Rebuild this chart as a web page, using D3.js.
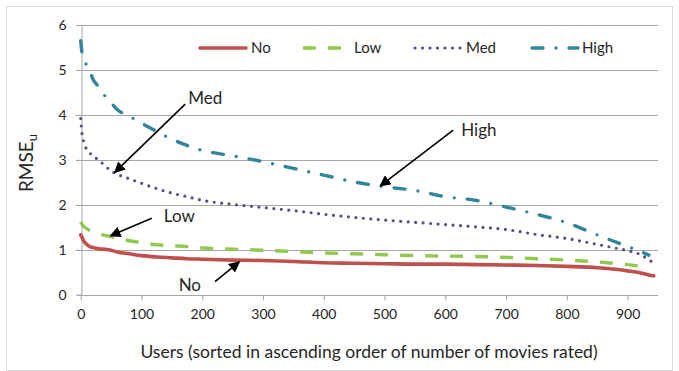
<!DOCTYPE html>
<html>
<head>
<meta charset="utf-8">
<script src="https://cdn.jsdelivr.net/npm/d3@7"></script>
<style>
  body { margin: 0; background: #fff; }
  svg text { font-family: Lato, "Open Sans", sans-serif; fill: #262626; }
</style>
</head>
<body>
<svg id="chart" width="679" height="371"></svg>
<script>
// user index (sorted by number of movies rated)
const users = [0, 2, 5, 10, 15, 20, 30, 40, 50, 60, 80, 100, 125, 150, 175, 200, 250, 300, 350, 400,
               450, 500, 550, 600, 650, 700, 750, 800, 850, 875, 900, 920, 935, 943];
const rmseNo   = [1.33, 1.28, 1.19, 1.12, 1.07, 1.05, 1.02, 1.01, 0.99, 0.95, 0.91, 0.87, 0.84, 0.82, 0.80, 0.79, 0.77, 0.76, 0.74, 0.71,
                  0.70, 0.69, 0.68, 0.68, 0.67, 0.66, 0.65, 0.63, 0.60, 0.57, 0.53, 0.49, 0.44, 0.42];
const rmseLow  = [1.62, 1.57, 1.52, 1.47, 1.43, 1.40, 1.35, 1.32, 1.29, 1.26, 1.20, 1.16, 1.11, 1.09, 1.07, 1.04, 1.01, 0.99, 0.96, 0.93,
                  0.91, 0.89, 0.87, 0.86, 0.85, 0.83, 0.80, 0.77, 0.73, 0.70, 0.67, 0.63, null, null];
const rmseMed  = [3.92, 3.60, 3.40, 3.23, 3.15, 3.09, 2.99, 2.87, 2.75, 2.68, 2.58, 2.48, 2.36, 2.26, 2.18, 2.10, 2.01, 1.94, 1.87, 1.79,
                  1.72, 1.66, 1.61, 1.56, 1.51, 1.45, 1.34, 1.25, 1.12, 1.05, 0.98, 0.90, 0.78, 0.70];
const rmseHigh = [5.65, 5.40, 5.25, 5.10, 4.98, 4.80, 4.62, 4.42, 4.27, 4.12, 3.97, 3.82, 3.63, 3.46, 3.32, 3.21, 3.09, 2.96, 2.81, 2.66,
                  2.51, 2.40, 2.32, 2.18, 2.10, 1.95, 1.79, 1.60, 1.33, 1.20, 1.07, 0.97, 0.88, null];
const seriesNames = ["No", "Low", "Med", "High"];
const xTicks = [0, 100, 200, 300, 400, 500, 600, 700, 800, 900];
const yTicks = [0, 1, 2, 3, 4, 5, 6];
// callouts: label, arrow tail and arrow tip (data units)
const callouts = [
  {name: "Med",  tx: 172, ty: 4.24, ax: 56,  ay: 2.72},
  {name: "High", tx: 613, ty: 3.66, ax: 493, ay: 2.42},
  {name: "Low",  tx: 117, ty: 1.70, ax: 49,  ay: 1.31},
  {name: "No",   tx: 221, ty: 0.29, ax: 261, ay: 0.73}
];

const svg = d3.select("#chart");
const styles = {
  No:   {color: "#C0504D", dash: null,         cap: "round", width: 3.6},
  Low:  {color: "#92C84E", dash: "13,12",      cap: "butt",  width: 3.4},
  Med:  {color: "#5F4B8B", dash: "0,7.5",      cap: "round", width: 3.2},
  High: {color: "#31859C", dash: "11,13,0,13", cap: "round", width: 3.4}
};
const valueMap = {No: rmseNo, Low: rmseLow, Med: rmseMed, High: rmseHigh};
// label offset from the arrow tail, in pixels
const labelOffset = {Med: [3, -6, "start"], High: [8, 0, "start"], Low: [12, -2, "start"], No: [-14, 3, "end"]};

const x = d3.scaleLinear().domain([0, 950]).range([80.7, 658]);
const y = d3.scaleLinear().domain([0, 6]).range([294.7, 25]);

// chart frame
svg.append("rect")
  .attr("x", 6.5).attr("y", 6.5).attr("width", 666).attr("height", 364)
  .attr("fill", "none").attr("stroke", "#d9d9d9");

// gridlines
svg.append("g").selectAll("line").data(yTicks.slice(1)).join("line")
  .attr("x1", x(0) - 5).attr("x2", x.range()[1])
  .attr("y1", d => Math.round(y(d)) + 0.5).attr("y2", d => Math.round(y(d)) + 0.5)
  .attr("stroke", "#a6a6a6").attr("stroke-width", 1);

// axes
const xAxis = svg.append("g").attr("transform", `translate(0,${Math.round(y(0)) + 0.5})`)
  .call(d3.axisBottom(x).tickValues(xTicks).tickSize(5).tickPadding(9).tickFormat(d3.format("d")));
const yAxis = svg.append("g").attr("transform", `translate(${Math.round(x(0)) + 0.5},0)`)
  .call(d3.axisLeft(y).tickValues(yTicks).tickSize(5).tickPadding(10).tickFormat(d3.format("d")));
[xAxis, yAxis].forEach(a => {
  a.select(".domain").attr("stroke", "#a6a6a6");
  a.selectAll(".tick line").attr("stroke", "#a6a6a6");
  a.selectAll(".tick text").attr("font-size", 14).attr("font-family", "Lato, sans-serif").attr("fill", "#262626");
});
xAxis.select(".domain").attr("d", `M${x(0)},0H${x.range()[1]}`);

// series
const line = d3.line()
  .defined(d => d[1] !== null)
  .x(d => x(d[0])).y(d => y(d[1]))
  .curve(d3.curveMonotoneX);

svg.append("g").selectAll("path").data(seriesNames).join("path")
  .attr("d", s => line(users.map((u, i) => [u, valueMap[s][i]])))
  .attr("fill", "none")
  .attr("stroke", s => styles[s].color)
  .attr("stroke-width", s => styles[s].width)
  .attr("stroke-dasharray", s => styles[s].dash)
  .attr("stroke-linecap", s => styles[s].cap)
  .attr("stroke-linejoin", "round");

// legend
const legendX = [200, 303, 415, 532];
const legend = svg.append("g").selectAll("g").data(seriesNames).join("g")
  .attr("transform", (d, i) => `translate(${legendX[i]},48)`);
legend.append("line")
  .attr("x1", 0).attr("x2", 46).attr("y1", 0).attr("y2", 0)
  .attr("stroke", s => styles[s].color)
  .attr("stroke-width", s => styles[s].width)
  .attr("stroke-dasharray", s => styles[s].dash)
  .attr("stroke-linecap", s => styles[s].cap);
legend.append("text")
  .attr("x", (d, i) => [51, 51, 51, 50][i]).attr("y", 0).attr("dy", "0.35em")
  .attr("font-size", 15)
  .text(d => d);

// callouts
svg.append("defs").append("marker")
  .attr("id", "arrow").attr("viewBox", "0 0 10 10")
  .attr("refX", 9).attr("refY", 5)
  .attr("markerWidth", 7).attr("markerHeight", 7)
  .attr("markerUnits", "strokeWidth")
  .attr("orient", "auto")
  .append("path").attr("d", "M0,0L10,5L0,10z").attr("fill", "#000");

const co = svg.append("g").selectAll("g").data(callouts).join("g");
co.append("line")
  .attr("x1", d => x(d.tx)).attr("y1", d => y(d.ty))
  .attr("x2", d => x(d.ax)).attr("y2", d => y(d.ay))
  .attr("stroke", "#000").attr("stroke-width", 1.6)
  .attr("marker-end", "url(#arrow)");
co.append("text")
  .attr("x", d => x(d.tx) + labelOffset[d.name][0])
  .attr("y", d => y(d.ty) + labelOffset[d.name][1])
  .attr("dy", "0.35em")
  .attr("text-anchor", d => labelOffset[d.name][2])
  .attr("font-size", 17)
  .text(d => d.name);

// axis titles
svg.append("text")
  .attr("x", 369).attr("y", 358)
  .attr("text-anchor", "middle").attr("font-size", 17.5)
  .text("Users (sorted in ascending order of number of movies rated)");

const yTitle = svg.append("text")
  .attr("transform", "translate(33,163) rotate(-90)")
  .attr("text-anchor", "middle").attr("font-size", 19);
yTitle.append("tspan").text("RMSE");
yTitle.append("tspan").attr("font-size", 13).attr("dy", 4).text("u");
</script>
</body>
</html>
